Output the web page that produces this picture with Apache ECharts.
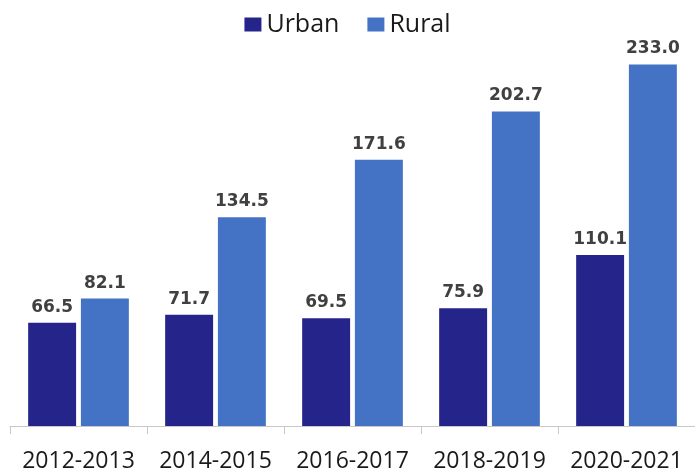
<!DOCTYPE html>
<html><head><meta charset="utf-8">
<script src="https://cdn.jsdelivr.net/npm/echarts@6/dist/echarts.min.js"></script>
<style>html,body{margin:0;padding:0;background:#fff}#c{width:695px;height:473px}</style>
</head><body><div id="c"></div>
<script>
const categories = ["2012-2013","2014-2015","2016-2017","2018-2019","2020-2021"];
const urban = [66.5, 71.7, 69.5, 75.9, 110.1];
const rural = [82.1, 134.5, 171.6, 202.7, 233.0];

const chart = echarts.init(document.getElementById('c'));
const lbl = {
  show: true, position: 'top', distance: 7,
  color: '#404040', fontFamily: 'DejaVu Sans', fontWeight: 'bold', fontSize: 17,
  formatter: p => p.value.toFixed(1)
};
chart.setOption({
  animation: false,
  legend: {
    top: 7, left: 'center', itemWidth: 17, itemHeight: 14, itemGap: 28,
    icon: 'rect',
    textStyle: { fontFamily: 'Open Sans', fontSize: 25, color: '#1a1a1a' },
    data: ['Urban', 'Rural']
  },
  grid: { left: 10, right: -6, top: 38, bottom: 47 },
  xAxis: {
    type: 'category', data: categories,
    axisLine: { lineStyle: { color: '#c8c8c8', width: 1 } },
    axisTick: { show: true, length: 8, interval: 0, lineStyle: { color: '#c8c8c8', width: 1 } },
    axisLabel: { interval: 0, fontFamily: 'Open Sans', fontSize: 23, color: '#1a1a1a', margin: 24 }
  },
  yAxis: { type: 'value', min: 0, max: 250, show: false, splitLine: { show: false } },
  series: [
    { name: 'Urban', type: 'bar', data: urban, barWidth: '35%', barGap: '10%',
      itemStyle: { color: '#24248b' }, label: lbl },
    { name: 'Rural', type: 'bar', data: rural, barWidth: '35%',
      itemStyle: { color: '#4472c4' }, label: lbl }
  ]
});
</script></body></html>
